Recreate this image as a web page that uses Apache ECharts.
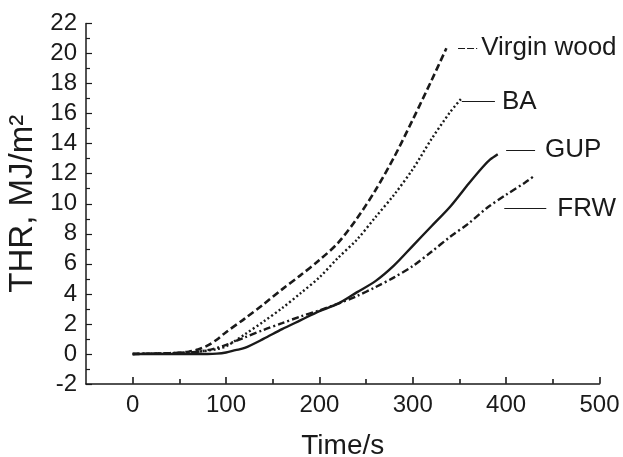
<!DOCTYPE html>
<html>
<head>
<meta charset="utf-8">
<script src="https://cdn.jsdelivr.net/npm/echarts@6/dist/echarts.min.js"></script>
<style>html,body{margin:0;padding:0;background:#fff}#c{width:623px;height:457px}</style>
</head>
<body>
<div id="c"></div>
<script>
// ---- data ----
const seriesNames = ['Virgin wood', 'BA', 'GUP', 'FRW'];

const vwTime = [0, 20, 40, 60, 70, 80, 90, 100, 120, 140, 160, 180, 200, 220, 240, 260, 280, 300, 320, 336];
const vwTHR  = [0, 0.02, 0.05, 0.15, 0.3, 0.55, 0.95, 1.45, 2.35, 3.3, 4.3, 5.25, 6.25, 7.4, 9.0, 10.9, 13.1, 15.6, 18.2, 20.35];

const baTime = [0, 20, 40, 60, 70, 80, 90, 100, 120, 140, 160, 180, 200, 220, 240, 260, 280, 300, 320, 340, 352];
const baTHR  = [0, 0.02, 0.05, 0.1, 0.15, 0.22, 0.32, 0.5, 1.3, 2.15, 3.05, 4.05, 5.1, 6.4, 7.6, 9.1, 10.6, 12.3, 14.3, 16.1, 17.0];

const gupTime = [0, 20, 40, 60, 80, 90, 100, 110, 120, 140, 160, 180, 200, 220, 240, 260, 280, 300, 320, 340, 360, 375, 383, 391];
const gupTHR  = [0, 0, 0, 0, 0, 0.02, 0.1, 0.25, 0.4, 1.0, 1.65, 2.25, 2.85, 3.35, 4.1, 4.85, 5.9, 7.2, 8.5, 9.8, 11.35, 12.45, 12.95, 13.3];

const frwTime = [0, 20, 40, 60, 70, 80, 90, 100, 120, 140, 160, 180, 200, 220, 240, 260, 280, 300, 320, 340, 360, 380, 400, 420, 431];
const frwTHR  = [0, 0.02, 0.05, 0.1, 0.15, 0.25, 0.4, 0.6, 1.1, 1.6, 2.05, 2.5, 2.9, 3.35, 3.85, 4.45, 5.1, 5.85, 6.8, 7.8, 8.7, 9.75, 10.6, 11.4, 11.9];

// leader lines for the curve labels: [startTime, endTime, THR level]
const vwLeader  = [348.5, 369, 20.37];
const baLeader  = [352.5, 388, 16.8];
const gupLeader = [400, 431, 13.57];
const frwLeader = [398, 443, 9.68];

const xMajorTicks = [0, 100, 200, 300, 400, 500];
const xMinorTicks = [50, 150, 250, 350, 450];
const yMin = -2, yMax = 22, yStep = 2;
// ---------------------------------------

const zip = (t, v) => t.map((x, i) => [x, v[i]]);
const INK = '#1a1a1a';
const FONT = '"Liberation Sans", Arial, Helvetica, sans-serif';

function leader(seg, name, dist, dashed) {
  return {
    symbol: 'none',
    silent: true,
    animation: false,
    lineStyle: { color: INK, width: 1, type: dashed ? [7, 2] : 'solid' },
    label: {
      show: true, position: 'end', distance: dist, formatter: name,
      color: INK, fontSize: 26, fontFamily: FONT
    },
    data: [[{ coord: [seg[0], seg[2]] }, { coord: [seg[1], seg[2]] }]]
  };
}

// x-axis ticks drawn as short vertical marker lines standing on the bottom axis
function tickSeries(values, len) {
  return {
    type: 'line', silent: true, data: [], showSymbol: false, z: 10,
    markLine: {
      symbol: 'none', silent: true, animation: false, z: 10,
      label: { show: false },
      lineStyle: { color: INK, width: 1.6, type: 'solid' },
      data: values.map(v => [{ coord: [v, yMin + 0.02] }, { coord: [v, yMin + len / 15] }])
    }
  };
}

const chart = echarts.init(document.getElementById('c'), null, { renderer: 'canvas' });
chart.setOption({
  animation: false,
  backgroundColor: '#fff',
  grid: { left: 86, right: 23.5, top: 23.5, bottom: 73, containLabel: false, outerBoundsMode: 'none' },
  xAxis: {
    type: 'value', min: -50, max: 500, interval: 50,
    name: 'Time/s', nameLocation: 'middle', nameGap: 48,
    nameTextStyle: { fontSize: 28, color: INK, fontFamily: FONT },
    axisLine: { show: true, onZero: false, lineStyle: { color: INK, width: 1.5 } },
    axisTick: { show: false },
    axisLabel: { customValues: xMajorTicks, fontSize: 24, color: INK, fontFamily: FONT, margin: 9 },
    splitLine: { show: false }
  },
  yAxis: {
    type: 'value', min: yMin, max: yMax, interval: yStep,
    name: 'THR, MJ/m\u00B2', nameLocation: 'middle', nameGap: 47, nameRotate: 90,
    nameTextStyle: { fontSize: 33, color: INK, fontFamily: FONT },
    axisLine: { show: true, onZero: false, lineStyle: { color: INK, width: 1.5 } },
    axisTick: { show: true, inside: true, length: 6, lineStyle: { color: INK, width: 1.2 } },
    minorTick: { show: true, splitNumber: 2, length: 4, lineStyle: { color: INK, width: 1.2 } },
    axisLabel: { fontSize: 24, color: INK, fontFamily: FONT, margin: 9 },
    splitLine: { show: false }
  },
  series: [
    {
      name: seriesNames[0], type: 'line', data: zip(vwTime, vwTHR), smooth: 0.3, showSymbol: false,
      lineStyle: { color: INK, width: 2.6, type: [7, 3.5] },
      markLine: leader(vwLeader, seriesNames[0], 4, true)
    },
    {
      name: seriesNames[1], type: 'line', data: zip(baTime, baTHR), smooth: 0.3, showSymbol: false,
      lineStyle: { color: INK, width: 2.4, type: [2, 2.5] },
      markLine: leader(baLeader, seriesNames[1], 7, false)
    },
    {
      name: seriesNames[2], type: 'line', data: zip(gupTime, gupTHR), smooth: 0.3, showSymbol: false,
      lineStyle: { color: INK, width: 2.4, type: 'solid' },
      markLine: leader(gupLeader, seriesNames[2], 10, false)
    },
    {
      name: seriesNames[3], type: 'line', data: zip(frwTime, frwTHR), smooth: 0.3, showSymbol: false,
      lineStyle: { color: INK, width: 2.4, type: [7, 3, 2, 3] },
      markLine: leader(frwLeader, seriesNames[3], 11, false)
    },
    tickSeries(xMajorTicks, 7),
    tickSeries(xMinorTicks, 5)
  ]
});
</script>
</body>
</html>
